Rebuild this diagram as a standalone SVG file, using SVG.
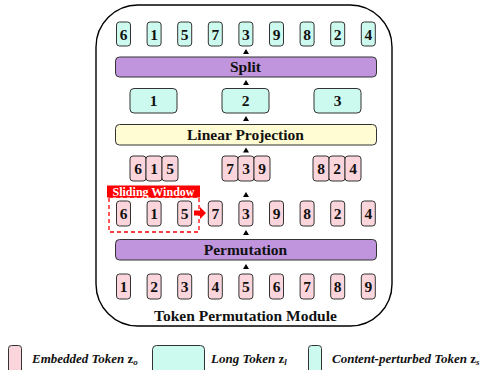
<svg xmlns="http://www.w3.org/2000/svg" width="485" height="370" viewBox="0 0 485 370">
  <style>
    .tok { fill: #fbd5dc; stroke: #333; stroke-width: 1; }
    .cyn { fill: #ccfaef; stroke: #333; stroke-width: 1; }
    .num { font-family: "Liberation Serif", serif; font-weight: bold; font-size: 15.5px; fill: #111; text-anchor: middle; }
    .bar { stroke: #333; stroke-width: 1; }
    .barlbl { font-family: "Liberation Serif", serif; font-weight: bold; font-size: 15.5px; fill: #111; text-anchor: middle; }
    .tri { fill: #000; }
    .leg { font-family: "Liberation Serif", serif; font-weight: bold; font-style: italic; font-size: 13px; fill: #111; }
  </style>

  <!-- module frame -->
  <g id="module">
    <rect x="96" y="5" width="296" height="321" rx="42" fill="#fff" stroke="#000" stroke-width="1.4"/>
    <text x="245.5" y="320.5" class="barlbl" font-size="16px">Token Permutation Module</text>
  </g>

  <!-- permuted tokens after split -->
  <g id="split-out">
    <rect class="cyn" x="116.5" y="22" width="14" height="24" rx="3"/><text class="num" x="123.5" y="39.5">6</text>
    <rect class="cyn" x="147.1" y="22" width="14" height="24" rx="3"/><text class="num" x="154.1" y="39.5">1</text>
    <rect class="cyn" x="177.7" y="22" width="14" height="24" rx="3"/><text class="num" x="184.7" y="39.5">5</text>
    <rect class="cyn" x="208.3" y="22" width="14" height="24" rx="3"/><text class="num" x="215.3" y="39.5">7</text>
    <rect class="cyn" x="238.9" y="22" width="14" height="24" rx="3"/><text class="num" x="245.9" y="39.5">3</text>
    <rect class="cyn" x="269.5" y="22" width="14" height="24" rx="3"/><text class="num" x="276.5" y="39.5">9</text>
    <rect class="cyn" x="300.1" y="22" width="14" height="24" rx="3"/><text class="num" x="307.1" y="39.5">8</text>
    <rect class="cyn" x="330.7" y="22" width="14" height="24" rx="3"/><text class="num" x="337.7" y="39.5">2</text>
    <rect class="cyn" x="361.3" y="22" width="14" height="24" rx="3"/><text class="num" x="368.3" y="39.5">4</text>
  </g>

  <g id="split">
    <rect class="bar" x="115.5" y="57" width="261" height="20" rx="4" fill="#c095de"/>
    <text class="barlbl" x="245.5" y="72">Split</text>
  </g>

  <!-- long tokens -->
  <g id="long-tokens">
    <rect class="cyn" x="130" y="88.5" width="47" height="24.5" rx="4"/><text class="num" x="153.5" y="106">1</text>
    <rect class="cyn" x="222" y="88.5" width="47" height="24.5" rx="4"/><text class="num" x="245.5" y="106">2</text>
    <rect class="cyn" x="314" y="88.5" width="47" height="24.5" rx="4"/><text class="num" x="337.5" y="106">3</text>
  </g>

  <g id="linear-projection">
    <rect class="bar" x="115.5" y="124.5" width="261" height="20.5" rx="4" fill="#fffbd2"/>
    <text class="barlbl" x="245.5" y="140">Linear Projection</text>
  </g>

  <!-- windowed groups -->
  <g id="groups">
    <rect class="tok" x="130" y="156" width="16" height="25" rx="3"/><text class="num" x="138" y="174">6</text>
    <rect class="tok" x="146" y="156" width="16" height="25" rx="3"/><text class="num" x="154" y="174">1</text>
    <rect class="tok" x="162" y="156" width="16" height="25" rx="3"/><text class="num" x="170" y="174">5</text>
    <rect class="tok" x="222" y="156" width="16" height="25" rx="3"/><text class="num" x="230" y="174">7</text>
    <rect class="tok" x="238" y="156" width="16" height="25" rx="3"/><text class="num" x="246" y="174">3</text>
    <rect class="tok" x="254" y="156" width="16" height="25" rx="3"/><text class="num" x="262" y="174">9</text>
    <rect class="tok" x="313" y="156" width="16" height="25" rx="3"/><text class="num" x="321" y="174">8</text>
    <rect class="tok" x="329" y="156" width="16" height="25" rx="3"/><text class="num" x="337" y="174">2</text>
    <rect class="tok" x="345" y="156" width="16" height="25" rx="3"/><text class="num" x="353" y="174">4</text>
  </g>

  <!-- sliding window -->
  <g id="sliding-window">
    <rect x="109" y="197" width="90" height="35" fill="none" stroke="#ff0000" stroke-width="1.3" stroke-dasharray="4,3"/>
    <rect x="107" y="185.5" width="93" height="12" fill="#ff0000"/>
    <text x="153.5" y="195.5" font-family="Liberation Serif, serif" font-weight="bold" font-size="12px" fill="#fff" text-anchor="middle">Sliding Window</text>
    <path d="M194,210.5 H200 V207 L206,213 L200,219 V215.5 H194 Z" fill="#ff0000"/>
  </g>

  <!-- permuted row -->
  <g id="permuted">
    <rect class="tok" x="116.5" y="201" width="14" height="25" rx="3"/><text class="num" x="123.5" y="219">6</text>
    <rect class="tok" x="147.1" y="201" width="14" height="25" rx="3"/><text class="num" x="154.1" y="219">1</text>
    <rect class="tok" x="177.7" y="201" width="14" height="25" rx="3"/><text class="num" x="184.7" y="219">5</text>
    <rect class="tok" x="208.3" y="201" width="14" height="25" rx="3"/><text class="num" x="215.3" y="219">7</text>
    <rect class="tok" x="238.9" y="201" width="14" height="25" rx="3"/><text class="num" x="245.9" y="219">3</text>
    <rect class="tok" x="269.5" y="201" width="14" height="25" rx="3"/><text class="num" x="276.5" y="219">9</text>
    <rect class="tok" x="300.1" y="201" width="14" height="25" rx="3"/><text class="num" x="307.1" y="219">8</text>
    <rect class="tok" x="330.7" y="201" width="14" height="25" rx="3"/><text class="num" x="337.7" y="219">2</text>
    <rect class="tok" x="361.3" y="201" width="14" height="25" rx="3"/><text class="num" x="368.3" y="219">4</text>
  </g>

  <g id="permutation">
    <rect class="bar" x="115.5" y="239.5" width="261" height="20.5" rx="4" fill="#c095de"/>
    <text class="barlbl" x="245.5" y="255">Permutation</text>
  </g>

  <!-- input tokens -->
  <g id="input">
    <rect class="tok" x="116.5" y="274" width="14" height="25" rx="3"/><text class="num" x="123.5" y="292">1</text>
    <rect class="tok" x="147.1" y="274" width="14" height="25" rx="3"/><text class="num" x="154.1" y="292">2</text>
    <rect class="tok" x="177.7" y="274" width="14" height="25" rx="3"/><text class="num" x="184.7" y="292">3</text>
    <rect class="tok" x="208.3" y="274" width="14" height="25" rx="3"/><text class="num" x="215.3" y="292">4</text>
    <rect class="tok" x="238.9" y="274" width="14" height="25" rx="3"/><text class="num" x="245.9" y="292">5</text>
    <rect class="tok" x="269.5" y="274" width="14" height="25" rx="3"/><text class="num" x="276.5" y="292">6</text>
    <rect class="tok" x="300.1" y="274" width="14" height="25" rx="3"/><text class="num" x="307.1" y="292">7</text>
    <rect class="tok" x="330.7" y="274" width="14" height="25" rx="3"/><text class="num" x="337.7" y="292">8</text>
    <rect class="tok" x="361.3" y="274" width="14" height="25" rx="3"/><text class="num" x="368.3" y="292">9</text>
  </g>

  <!-- flow arrowheads -->
  <g id="connectors">
    <path class="tri" d="M246,49 L249,54 L243,54 Z"/>
    <path class="tri" d="M246,80 L249,85 L243,85 Z"/>
    <path class="tri" d="M246,116 L249,121 L243,121 Z"/>
    <path class="tri" d="M246,147.5 L249,152.5 L243,152.5 Z"/>
    <path class="tri" d="M246,192 L249,197 L243,197 Z"/>
    <path class="tri" d="M246,230 L249,235 L243,235 Z"/>
    <path class="tri" d="M246,264 L249,269 L243,269 Z"/>
  </g>

  <!-- legend -->
  <g id="legend">
    <rect class="tok" x="8.5" y="345.5" width="13" height="30" rx="3"/>
    <text class="leg" x="32" y="363">Embedded Token <tspan font-style="normal">z</tspan><tspan font-size="9px" dy="2">o</tspan></text>
    <rect class="cyn" x="152.5" y="345.5" width="52" height="30" rx="4"/>
    <text class="leg" x="211" y="363">Long Token <tspan font-style="normal">z</tspan><tspan font-size="9px" dy="2">l</tspan></text>
    <rect class="cyn" x="308.5" y="345.5" width="13" height="30" rx="3"/>
    <text class="leg" x="332" y="363">Content-perturbed Token <tspan font-style="normal">z</tspan><tspan font-size="9px" dy="2">s</tspan></text>
  </g>
</svg>
